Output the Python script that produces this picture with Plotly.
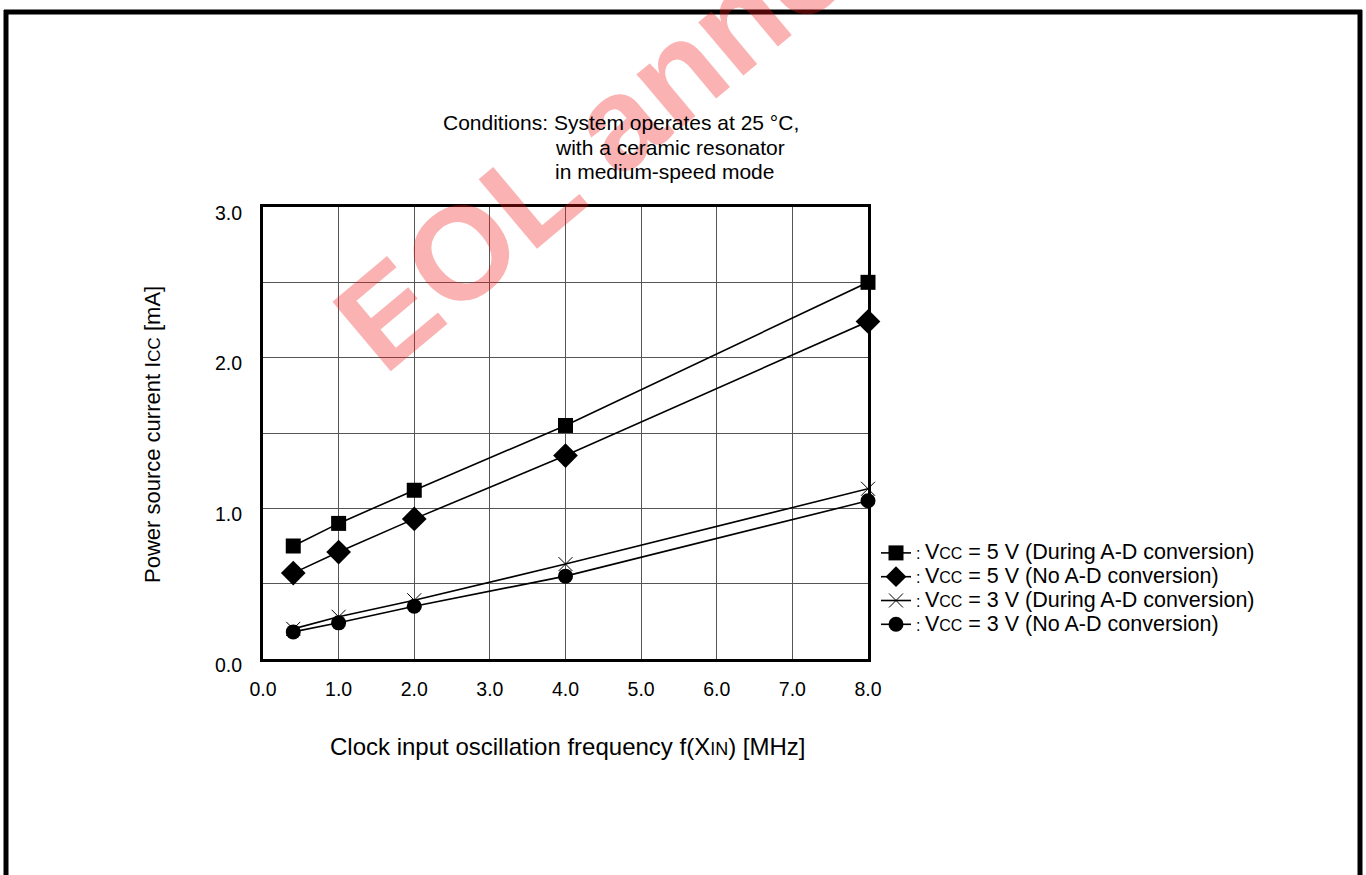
import plotly.graph_objects as go

# data
freq_mhz = [0.4, 1.0, 2.0, 4.0, 8.0]
icc_5v_ad = [0.75, 0.90, 1.12, 1.55, 2.50]
icc_5v_no_ad = [0.57, 0.71, 0.93, 1.35, 2.24]
icc_3v_ad = [0.20, 0.28, 0.39, 0.63, 1.13]
icc_3v_no_ad = [0.18, 0.24, 0.35, 0.55, 1.05]

x_ticks = [0, 1, 2, 3, 4, 5, 6, 7, 8]
y_ticks = [0, 0.5, 1, 1.5, 2, 2.5, 3]
y_tick_text = ['0.0', '', '1.0', '', '2.0', '', '3.0']

W, H = 1366, 875
L, R, T, B = 263, 868, 207, 659
FONT = 'Liberation Sans, Arial, sans-serif'


def px_x(x):
    return (x - L) / (R - L)


def px_y(y):
    return (B - y) / (B - T)


def leg(vcc, txt):
    return (": <span style='font-size:21.5px'>V</span><span style='font-size:16px'>CC</span>"
            f"<span style='font-size:21.5px'> = {vcc} V ({txt})</span>")


series = [
    (icc_5v_ad, 'square', 15, leg(5, 'During A-D conversion')),
    (icc_5v_no_ad, 'diamond', 19, leg(5, 'No A-D conversion')),
    (icc_3v_ad, 'x-thin', 14, leg(3, 'During A-D conversion')),
    (icc_3v_no_ad, 'circle', 15, leg(3, 'No A-D conversion')),
]

fig = go.Figure()
for ys, sym, size, name in series:
    fig.add_trace(go.Scatter(
        x=freq_mhz, y=ys, name=name,
        mode='lines+markers', cliponaxis=False,
        line=dict(color='black', width=1.6),
        marker=dict(symbol=sym, size=size, color='black',
                    line=dict(color='black', width=1 if sym == 'x-thin' else 0)),
    ))

fig.update_layout(
    width=W, height=H,
    margin=dict(l=L, r=W - R, t=T, b=H - B),
    plot_bgcolor='white', paper_bgcolor='white',
    font=dict(family=FONT, color='black', size=19.5),
    showlegend=True,
    legend=dict(
        x=px_x(876), y=px_y(536), xanchor='left', yanchor='top',
        font=dict(size=16, family=FONT, color='black'),
        bgcolor='rgba(0,0,0,0)', tracegroupgap=0,
    ),
    xaxis=dict(
        range=[0, 8], tickvals=x_ticks, ticktext=[f'{v:.1f}' for v in x_ticks],
        showgrid=True, gridcolor='#555', gridwidth=1,
        showline=True, linecolor='black', linewidth=3, mirror=True,
        ticks='', zeroline=False, ticklabelstandoff=11,
        tickfont=dict(size=19.5),
    ),
    yaxis=dict(
        range=[0, 3], tickvals=y_ticks, ticktext=y_tick_text,
        showgrid=True, gridcolor='#555', gridwidth=1,
        showline=True, linecolor='black', linewidth=3, mirror=True,
        ticks='', zeroline=False, ticklabelstandoff=14, ticklabelshift=6,
        tickfont=dict(size=19.5),
    ),
)

ann = [
    # watermark
    dict(text='<b>EOL announced</b>', x=px_x(742), y=px_y(18), xref='paper', yref='paper',
         xanchor='center', yanchor='middle', showarrow=False, textangle=-40,
         font=dict(size=132, color='rgba(240,20,20,0.33)', family=FONT)),
    dict(text='Conditions: System operates at 25 °C,', x=px_x(441), y=px_y(123),
         xanchor='left', yanchor='middle', size=21),
    dict(text='with a ceramic resonator', x=px_x(553), y=px_y(147),
         xanchor='left', yanchor='middle', size=21),
    dict(text='in medium-speed mode', x=px_x(553), y=px_y(171),
         xanchor='left', yanchor='middle', size=21),
    dict(text="Clock input oscillation frequency f(X<span style='font-size:18px'>IN</span>) [MHz]",
         x=px_x(568), y=px_y(746), xanchor='center', yanchor='middle', size=24),
    dict(text="Power source current I<span style='font-size:17px'>CC</span> [mA]",
         x=px_x(152), y=px_y(435), textangle=-90, xanchor='center', yanchor='middle', size=22),
]
for a in ann[1:]:
    a.update(xref='paper', yref='paper', showarrow=False,
             font=dict(size=a.pop('size'), family=FONT, color='black'))
fig.update_layout(annotations=ann)

# page frame (top, left, right edges)
frame = dict(color='black', width=5)
fig.add_shape(type='line', xref='paper', yref='paper', x0=px_x(4), x1=px_x(1362), y0=px_y(12), y1=px_y(12), line=frame)
fig.add_shape(type='line', xref='paper', yref='paper', x0=px_x(6), x1=px_x(6), y0=px_y(10), y1=px_y(880), line=frame)
fig.add_shape(type='line', xref='paper', yref='paper', x0=px_x(1360), x1=px_x(1360), y0=px_y(10), y1=px_y(880), line=frame)

# drop the default page margin so the figure sits at the window's corner
fig.write_html('out.html', config={'displayModeBar': False},
               post_script="document.body.style.margin='0';")
